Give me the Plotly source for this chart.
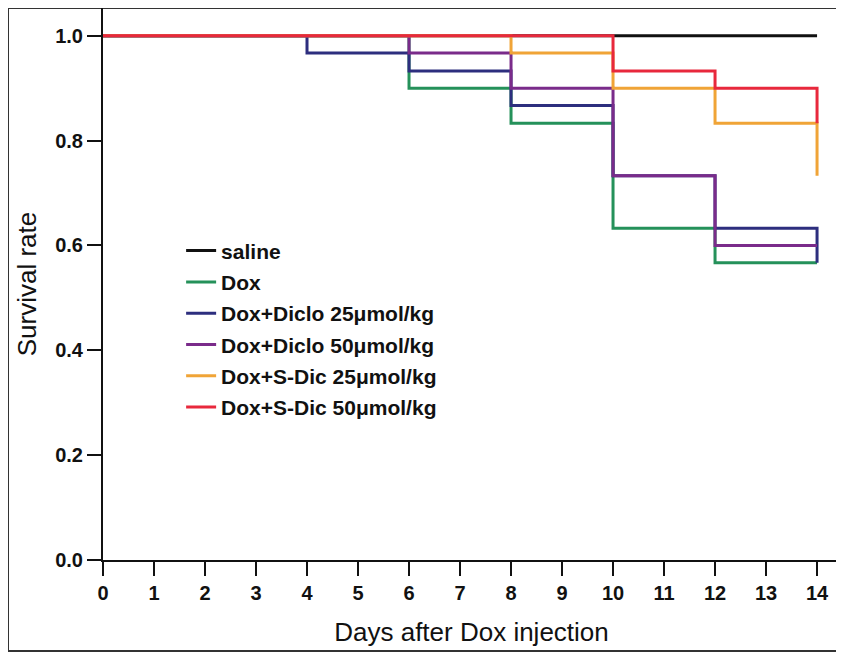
import plotly.graph_objects as go

# Data: Kaplan-Meier style survival steps
series_names = ["saline", "Dox", "Dox+Diclo 25μmol/kg", "Dox+Diclo 50μmol/kg",
                "Dox+S-Dic 25μmol/kg", "Dox+S-Dic 50μmol/kg"]
saline_days = [0, 14]
saline_surv = [1.0, 1.0]
dox_days = [0, 6, 8, 10, 12, 14]
dox_surv = [1.0, 0.9, 0.833, 0.633, 0.567, 0.567]
diclo25_days = [0, 4, 6, 8, 10, 12, 14]
diclo25_surv = [1.0, 0.967, 0.933, 0.867, 0.733, 0.633, 0.567]
diclo50_days = [0, 6, 8, 10, 12, 14]
diclo50_surv = [1.0, 0.967, 0.9, 0.733, 0.6, 0.6]
sdic25_days = [0, 8, 10, 12, 14]
sdic25_surv = [1.0, 0.967, 0.9, 0.833, 0.733]
sdic50_days = [0, 10, 12, 14]
sdic50_surv = [1.0, 0.933, 0.9, 0.833]

x_ticks = list(range(0, 15))
y_ticks = [0.0, 0.2, 0.4, 0.6, 0.8, 1.0]

colors = ["#111111", "#25915a", "#2d2e7e", "#7a2b8a", "#f0a437", "#e8283c"]
all_days = [saline_days, dox_days, diclo25_days, diclo50_days, sdic25_days, sdic50_days]
all_surv = [saline_surv, dox_surv, diclo25_surv, diclo50_surv, sdic25_surv, sdic50_surv]

fig = go.Figure()
for i, (name, d, s, c) in enumerate(zip(series_names, all_days, all_surv, colors)):
    fig.add_trace(go.Scatter(x=d, y=s, mode="lines", name=name,
                             line=dict(color=c, width=3, shape="hv"),
                             legendgroup=str(i)))

tick_font = dict(family="Liberation Sans, Arial, sans-serif",
                 size=20, color="#111", weight="bold")
title_font = dict(family="Liberation Sans, Arial, sans-serif", size=26, color="#111")

fig.update_layout(
    width=844, height=653,
    margin=dict(l=95, r=12, t=0, b=101),
    paper_bgcolor="white", plot_bgcolor="white",
    showlegend=True,
    legend=dict(x=0.106, y=0.597, xanchor="left", yanchor="top",
                bgcolor="rgba(0,0,0,0)", itemwidth=30,
                tracegroupgap=1, traceorder="grouped",
                font=dict(family="Liberation Sans, Arial, sans-serif",
                          size=21, color="#111", weight="bold")),
    xaxis=dict(range=[0, 14.45], tickvals=x_ticks, ticks="outside", ticklen=14,
               tickwidth=2, tickcolor="#111", showline=True, linewidth=2,
               linecolor="#111", showgrid=False, zeroline=False,
               tickfont=tick_font,
               title=dict(text="Days after Dox injection", font=title_font, standoff=20)),
    yaxis=dict(range=[0, 1.053], tickvals=y_ticks, tickformat=".1f", ticks="outside",
               ticklen=14, tickwidth=2, tickcolor="#111", showline=True, linewidth=2,
               linecolor="#111", showgrid=False, zeroline=False,
               tickfont=tick_font,
               title=dict(text="Survival rate", font=title_font, standoff=11)),
    shapes=[dict(type="rect", xref="paper", yref="paper",
                 x0=-0.1289, x1=1.03, y0=-0.1649, y1=1.0,
                 line=dict(color="#333", width=2), fillcolor="rgba(0,0,0,0)", layer="below")],
)

fig.write_html("out.html")
